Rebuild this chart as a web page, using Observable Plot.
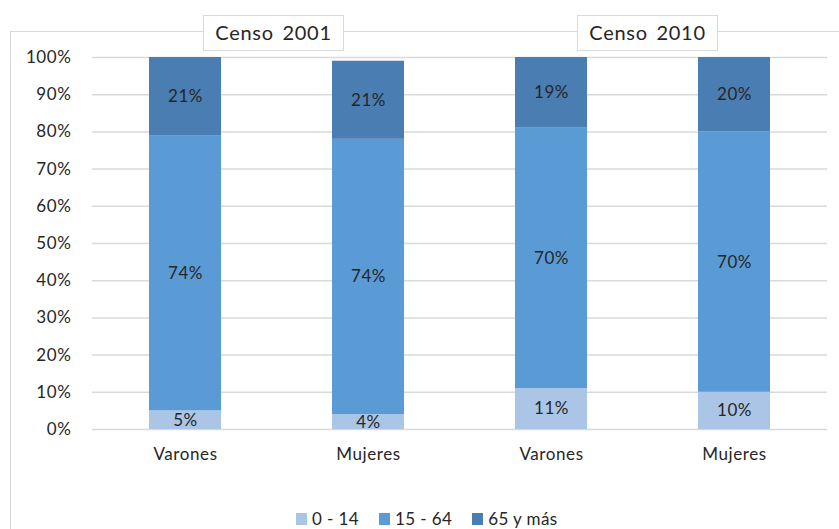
<!DOCTYPE html>
<html>
<head>
<meta charset="utf-8">
<script src="https://cdn.jsdelivr.net/npm/d3@7"></script>
<script src="https://cdn.jsdelivr.net/npm/@observablehq/plot@0.6"></script>
<style>
  body { margin: 0; background: #fff; }
  #wrap { position: relative; width: 839px; height: 529px; overflow: hidden; background: #fff; font-family: Lato, "Open Sans", sans-serif; color: #262626; }
  #wrap svg { position: absolute; left: 0; top: 0; letter-spacing: 0.6px; }
  .frame { position: absolute; left: 10px; top: 31px; width: 860px; height: 560px; border: 1.5px solid #d9d9d9; box-sizing: border-box; }
  .tbox { position: absolute; top: 15px; width: 141px; height: 36px; background: #fff; border: 1.5px solid #d9d9d9; box-sizing: border-box; font-size: 20px; line-height: 33px; text-align: center; letter-spacing: 0.7px; word-spacing: 3px; }
  .legend { position: absolute; top: 508px; left: 296px; display: flex; font-size: 17px; letter-spacing: 0.4px; }
  .legend .item { display: flex; align-items: center; margin-right: 20px; }
  .legend .sw { width: 11px; height: 12px; margin-right: 5px; }
</style>
</head>
<body>
<div id="wrap"></div>
<script>
// ---- data ----
const censos = ["Censo 2001", "Censo 2010"];
const sexos = ["Varones", "Mujeres"];
const ageGroups = ["0 - 14", "15 - 64", "65 y más"];
// order of bars: 2001 Varones, 2001 Mujeres, 2010 Varones, 2010 Mujeres
const age0_14 = [5, 4, 11, 10];
const age15_64 = [74, 74, 70, 70];
const age65 = [21, 21, 19, 20];
const yTicks = [0, 10, 20, 30, 40, 50, 60, 70, 80, 90, 100];
const colors = ["#abc5e6", "#5b9bd5", "#4a7db1"];

const keys = [];
censos.forEach(c => sexos.forEach(s => keys.push(c + "|" + s)));
const series = [age0_14, age15_64, age65];
const data = [];
keys.forEach((k, i) => {
  ageGroups.forEach((g, j) => data.push({ key: k, group: g, value: series[j][i] }));
});

const wrap = document.getElementById("wrap");

const plot = Plot.plot({
  width: 839,
  height: 529,
  marginLeft: 92,
  marginRight: 12,
  marginTop: 57,
  marginBottom: 100,
  style: { fontFamily: "Lato, 'Open Sans', sans-serif", fontSize: "17px", color: "#262626", background: "transparent" },
  x: { domain: keys, paddingInner: 0.608, paddingOuter: 0.304, label: null },
  y: { domain: [0, 100], label: null },
  color: { domain: ageGroups, range: colors },
  marks: [
    Plot.gridY(yTicks, { stroke: "#d9d9d9", strokeOpacity: 1, strokeWidth: 1.5 }),
    Plot.barY(data, { x: "key", y: "value", fill: "group" }),
    Plot.text(data, Plot.stackY({ x: "key", y: "value", text: d => d.value + "%", fill: "#262626", fontSize: 17 })),
    Plot.axisX({ tickSize: 0, tickPadding: 18, tickFormat: d => d.split("|")[1], label: null, fontSize: 17 }),
    Plot.axisY({ ticks: yTicks, tickSize: 0, tickPadding: 21, tickFormat: d => d + "%", label: null, fontSize: 17 })
  ]
});
wrap.appendChild(plot);

// frame
const frame = document.createElement("div");
frame.className = "frame";
wrap.appendChild(frame);

// census title boxes
const boxLeft = [203, 577];
censos.forEach((c, i) => {
  const box = document.createElement("div");
  box.className = "tbox";
  box.textContent = c;
  box.style.left = boxLeft[i] + "px";
  wrap.appendChild(box);
});

// legend
const leg = document.createElement("div");
leg.className = "legend";
ageGroups.forEach((g, i) => {
  const it = document.createElement("div");
  it.className = "item";
  const sw = document.createElement("span");
  sw.className = "sw";
  sw.style.background = colors[i];
  const t = document.createElement("span");
  t.textContent = g;
  it.appendChild(sw);
  it.appendChild(t);
  leg.appendChild(it);
});
wrap.appendChild(leg);
</script>
</body>
</html>
